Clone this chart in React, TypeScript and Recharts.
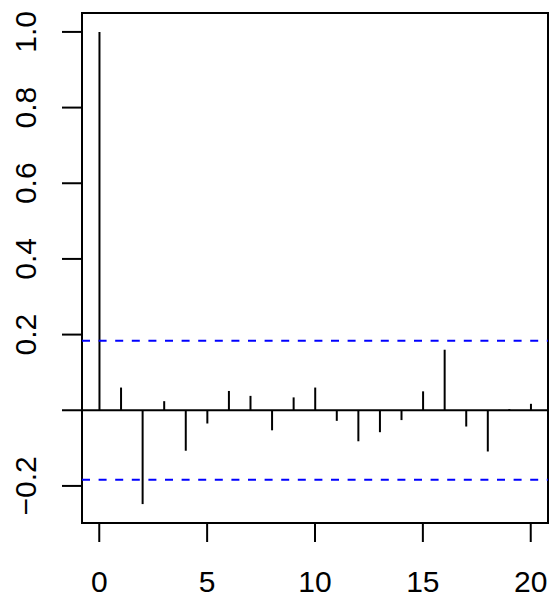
import {
  ComposedChart,
  Bar,
  XAxis,
  YAxis,
  ReferenceLine,
  ReferenceArea,
} from 'recharts';

// autocorrelation per lag
const lags = [0, 1, 2, 3, 4, 5, 6, 7, 8, 9, 10, 11, 12, 13, 14, 15, 16, 17, 18, 19, 20];
const acfValues = [
  1.0, 0.06, -0.248, 0.024, -0.107, -0.035, 0.051, 0.038, -0.053, 0.034, 0.06,
  -0.028, -0.082, -0.058, -0.026, 0.05, 0.16, -0.043, -0.109, 0.003, 0.017,
];
const confLimit = 0.184;
const xTicks = [0, 5, 10, 15, 20];
const yTicks = [-0.2, 0, 0.2, 0.4, 0.6, 0.8, 1.0];

const data = lags.map((lag, i) => ({ lag, acf: acfValues[i] }));

const FONT = '"Liberation Sans", Arial, sans-serif';

function XTick(props: any) {
  const { x, payload } = props;
  return (
    <text x={x} y={592} textAnchor="middle" fontFamily={FONT} fontSize={30} fill="#000">
      {payload.value}
    </text>
  );
}

function YTick(props: any) {
  const { y, payload } = props;
  if (payload.value === 0) return <g />;
  const label = payload.value < 0 ? '\u2212' + Math.abs(payload.value).toFixed(1) : payload.value.toFixed(1);
  return (
    <text
      x={36}
      y={y}
      transform={`rotate(-90, 36, ${y})`}
      textAnchor="middle"
      fontFamily={FONT}
      fontSize={30}
      fill="#000"
    >
      {label}
    </text>
  );
}

export default function App() {
  return (
    <div style={{ position: 'absolute', left: 0, top: 0, background: '#fff' }}>
      <ComposedChart
        width={551}
        height={598}
        data={data}
        margin={{ top: 13, right: 3, left: 0, bottom: 0 }}
      >
        <XAxis
          dataKey="lag"
          type="number"
          domain={[-0.8, 20.8]}
          ticks={xTicks}
          allowDataOverflow
          axisLine={false}
          tickSize={19}
          tickLine={{ stroke: '#000', strokeWidth: 2 }}
          height={75}
          tick={<XTick />}
        />
        <YAxis
          type="number"
          domain={[-0.298, 1.05]}
          ticks={yTicks}
          allowDataOverflow
          axisLine={false}
          tickSize={20}
          tickLine={{ stroke: '#000', strokeWidth: 2 }}
          width={82}
          tick={<YTick />}
        />
        <ReferenceLine y={0} stroke="#000" strokeWidth={2} />
        <ReferenceLine y={confLimit} stroke="#0000ff" strokeWidth={2} strokeDasharray="8 8.6" />
        <ReferenceLine y={-confLimit} stroke="#0000ff" strokeWidth={2} strokeDasharray="8 8.6" />
        <Bar dataKey="acf" fill="#000" barSize={2} isAnimationActive={false} />
        <ReferenceArea
          x1={-0.8}
          x2={20.8}
          y1={-0.298}
          y2={1.05}
          fill="none"
          stroke="#000"
          strokeWidth={2}
          fillOpacity={0}
        />
      </ComposedChart>
    </div>
  );
}
